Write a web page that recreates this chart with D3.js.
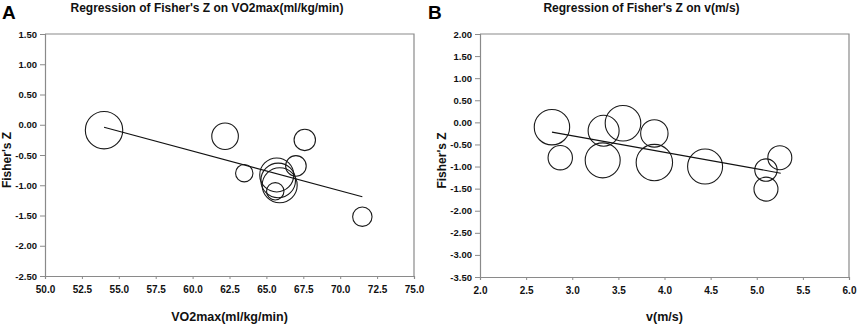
<!DOCTYPE html>
<html>
<head>
<meta charset="utf-8">
<script src="https://cdn.jsdelivr.net/npm/d3@7"></script>
<style>
  body { margin: 0; background: #fff; }
  text { font-family: "Liberation Sans", Arial, sans-serif; }
</style>
</head>
<body>
<script>
// Panel A : Fisher's Z vs VO2max
const vo2max   = [54.0, 62.2, 67.6, 63.5, 67.0, 65.6, 71.5, 65.7, 65.8, 65.9];
const fisherZA = [-0.09, -0.19, -0.25, -0.80, -0.68, -1.10, -1.52, -0.83, -0.92, -1.00];
const weightA  = [18.7, 13.3, 10.7, 8.7, 10.3, 8.7, 9.7, 17.0, 17.3, 17.5];
const fitXA = [54.0, 71.5];
const fitYA = [-0.04, -1.19];
const xTicksA = [50.0, 52.5, 55.0, 57.5, 60.0, 62.5, 65.0, 67.5, 70.0, 72.5, 75.0];
const yTicksA = [1.5, 1.0, 0.5, 0.0, -0.5, -1.0, -1.5, -2.0, -2.5];

// Panel B : Fisher's Z vs v(m/s)
const speed    = [2.78, 2.87, 3.34, 3.55, 3.89, 3.33, 3.89, 4.44, 5.25, 5.10, 5.10];
const fisherZB = [-0.11, -0.80, -0.19, -0.02, -0.25, -0.86, -0.91, -1.00, -0.80, -1.08, -1.51];
const weightB  = [17.7, 12.2, 15.5, 17.8, 13.7, 17.5, 18.2, 17.5, 12.0, 11.2, 12.0];
const fitXB = [2.78, 5.26];
const fitYB = [-0.22, -1.15];
const xTicksB = [2.0, 2.5, 3.0, 3.5, 4.0, 4.5, 5.0, 5.5, 6.0];
const yTicksB = [2.0, 1.5, 1.0, 0.5, 0.0, -0.5, -1.0, -1.5, -2.0, -2.5, -3.0, -3.5];

const WIDTH = 858, HEIGHT = 327;

const svg = d3.select("body").append("svg")
    .attr("width", WIDTH)
    .attr("height", HEIGHT);

// radius scale shared by both panels
const rScale = d3.scaleLinear().domain([0, 20]).range([0, 20]);

const fmtY = d => d3.format(".2f")(d).replace("\u2212", "-");
const fmtX = d => d3.format(".1f")(d).replace("\u2212", "-");

function panel(opt) {
    const left = opt.left, right = opt.right, top = opt.top, bottom = opt.bottom;

    const x = d3.scaleLinear().domain(opt.xDomain).range([left, right]);
    const y = d3.scaleLinear().domain(opt.yDomain).range([bottom, top]);

    // frame (top + right)
    svg.append("path")
        .attr("d", `M${left},${top}H${right}V${bottom}`)
        .attr("fill", "none")
        .attr("stroke", "#8a8a8a")
        .attr("stroke-width", 1.2);

    const yAxis = svg.append("g")
        .attr("transform", `translate(${left},0)`)
        .call(d3.axisLeft(y).tickValues(opt.yTicks).tickFormat(fmtY).tickSize(5).tickPadding(3));

    const xAxis = svg.append("g")
        .attr("transform", `translate(0,${bottom})`)
        .call(d3.axisBottom(x).tickValues(opt.xTicks).tickFormat(fmtX).tickSize(3).tickPadding(7));

    [xAxis, yAxis].forEach(a => {
        a.select(".domain").attr("stroke", "#8a8a8a").attr("stroke-width", 1.2);
        a.selectAll(".tick line").attr("stroke", "#8a8a8a");
        a.selectAll("text")
            .attr("font-family", "Liberation Sans, Arial, sans-serif")
            .attr("font-weight", "bold")
            .attr("fill", "#111");
    });
    yAxis.selectAll("text").attr("font-size", 9.5);
    xAxis.selectAll("text").attr("font-size", 10);

    // bubbles
    const pts = opt.xs.map((v, i) => ({x: v, y: opt.ys[i], w: opt.ws[i]}));
    svg.append("g").selectAll("circle")
        .data(pts)
        .enter().append("circle")
            .attr("cx", d => x(d.x))
            .attr("cy", d => y(d.y))
            .attr("r", d => rScale(d.w))
            .attr("fill", "none")
            .attr("stroke", "#1a1a1a")
            .attr("stroke-width", 1.1);

    // regression line
    const line = d3.line().x(d => x(d[0])).y(d => y(d[1]));
    svg.append("path")
        .datum(opt.fitX.map((v, i) => [v, opt.fitY[i]]))
        .attr("d", line)
        .attr("fill", "none")
        .attr("stroke", "#111")
        .attr("stroke-width", 1.1);

    // titles
    svg.append("text")
        .attr("x", opt.letterX).attr("y", 19)
        .attr("font-size", 19).attr("font-weight", "bold")
        .text(opt.letter);

    svg.append("text")
        .attr("x", opt.titleX).attr("y", 12)
        .attr("text-anchor", "middle")
        .attr("font-size", 12).attr("font-weight", "bold")
        .attr("fill", "#111")
        .text(opt.title);

    svg.append("text")
        .attr("x", (left + right) / 2).attr("y", 321)
        .attr("text-anchor", "middle")
        .attr("font-size", 12.5).attr("font-weight", "bold")
        .attr("fill", "#111")
        .text(opt.xLabel);

    svg.append("text")
        .attr("transform", `translate(${left - 34},${(top + bottom) / 2 + 5}) rotate(-90)`)
        .attr("text-anchor", "middle")
        .attr("font-size", 12).attr("font-weight", "bold")
        .attr("fill", "#111")
        .text("Fisher's Z");
}

panel({
    left: 45, right: 414, top: 34, bottom: 276,
    xDomain: [50, 75], yDomain: [-2.5, 1.5],
    xTicks: xTicksA, yTicks: yTicksA,
    xs: vo2max, ys: fisherZA, ws: weightA,
    fitX: fitXA, fitY: fitYA,
    letter: "A", letterX: 2, titleX: 207,
    title: "Regression of Fisher's Z on VO2max(ml/kg/min)",
    xLabel: "VO2max(ml/kg/min)"
});

panel({
    left: 480, right: 849, top: 34, bottom: 277,
    xDomain: [2, 6], yDomain: [-3.5, 2.0],
    xTicks: xTicksB, yTicks: yTicksB,
    xs: speed, ys: fisherZB, ws: weightB,
    fitX: fitXB, fitY: fitYB,
    letter: "B", letterX: 428, titleX: 641.5,
    title: "Regression of Fisher's Z on v(m/s)",
    xLabel: "v(m/s)"
});
</script>
</body>
</html>
